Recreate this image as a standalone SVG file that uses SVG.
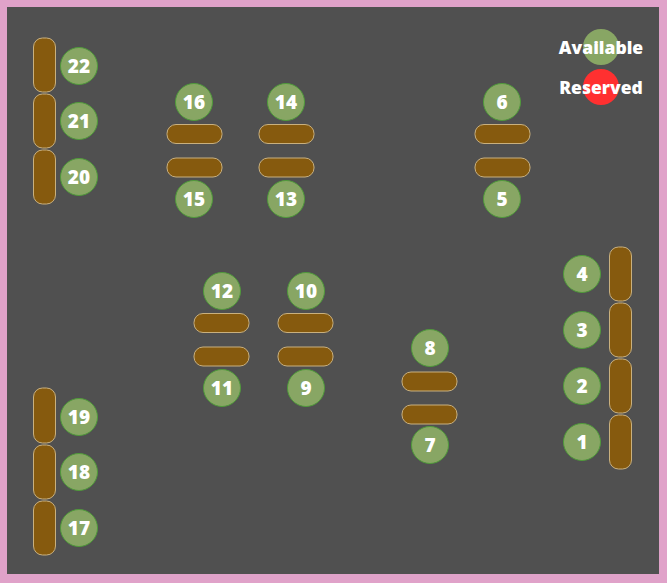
<svg xmlns="http://www.w3.org/2000/svg" width="667" height="583" viewBox="0 0 667 583">
<style>
.spot{fill:#865a0e;stroke:#c9b07e;stroke-width:1}
.av{fill:#88a664;stroke:#4f9a3a;stroke-width:1}
.lbl{font-family:"Open Sans","Liberation Sans",sans-serif;font-weight:800;font-size:19px;fill:#ffffff;text-anchor:middle;dominant-baseline:central}
.leg{font-family:"Open Sans","Liberation Sans",sans-serif;font-weight:800;font-size:17.5px;fill:#ffffff;text-anchor:middle;dominant-baseline:central}
</style>
<rect x="0" y="0" width="667" height="583" fill="#e0a2c9"/>
<rect x="7" y="7" width="652" height="567" fill="#505050"/>
<g id="legend">
<circle cx="601" cy="47" r="18" fill="#88a664"/>
<text class="leg" x="601" y="47">Available</text>
<circle cx="601" cy="87" r="18" fill="#ff3030"/>
<text class="leg" x="601" y="87">Reserved</text>
</g>
<g id="spot-22"><rect class="spot" x="33.5" y="38" width="22" height="54" rx="9"/><circle class="av" cx="79" cy="66" r="18.5"/><text class="lbl" x="79" y="66">22</text></g>
<g id="spot-21"><rect class="spot" x="33.5" y="94" width="22" height="54" rx="9"/><circle class="av" cx="79" cy="121" r="18.5"/><text class="lbl" x="79" y="121">21</text></g>
<g id="spot-20"><rect class="spot" x="33.5" y="150" width="22" height="54" rx="9"/><circle class="av" cx="79" cy="177" r="18.5"/><text class="lbl" x="79" y="177">20</text></g>
<g id="spot-19"><rect class="spot" x="33.5" y="388" width="22" height="55" rx="9"/><circle class="av" cx="79" cy="417" r="18.5"/><text class="lbl" x="79" y="417">19</text></g>
<g id="spot-18"><rect class="spot" x="33.5" y="445" width="22" height="54" rx="9"/><circle class="av" cx="79" cy="472" r="18.5"/><text class="lbl" x="79" y="472">18</text></g>
<g id="spot-17"><rect class="spot" x="33.5" y="501" width="22" height="54" rx="9"/><circle class="av" cx="79" cy="528" r="18.5"/><text class="lbl" x="79" y="528">17</text></g>
<g id="spot-16"><rect class="spot" x="167" y="124.5" width="55" height="19" rx="9"/><circle class="av" cx="194" cy="102" r="18.5"/><text class="lbl" x="194" y="102">16</text></g>
<g id="spot-15"><rect class="spot" x="167" y="158" width="55" height="19" rx="9"/><circle class="av" cx="194" cy="199" r="18.5"/><text class="lbl" x="194" y="199">15</text></g>
<g id="spot-14"><rect class="spot" x="259" y="124.5" width="55" height="19" rx="9"/><circle class="av" cx="286" cy="102" r="18.5"/><text class="lbl" x="286" y="102">14</text></g>
<g id="spot-13"><rect class="spot" x="259" y="158" width="55" height="19" rx="9"/><circle class="av" cx="286" cy="199" r="18.5"/><text class="lbl" x="286" y="199">13</text></g>
<g id="spot-6"><rect class="spot" x="475" y="124.5" width="55" height="19" rx="9"/><circle class="av" cx="502" cy="102" r="18.5"/><text class="lbl" x="502" y="102">6</text></g>
<g id="spot-5"><rect class="spot" x="475" y="158" width="55" height="19" rx="9"/><circle class="av" cx="502" cy="199" r="18.5"/><text class="lbl" x="502" y="199">5</text></g>
<g id="spot-12"><rect class="spot" x="194" y="313.5" width="55" height="19" rx="9"/><circle class="av" cx="222" cy="291" r="18.5"/><text class="lbl" x="222" y="291">12</text></g>
<g id="spot-11"><rect class="spot" x="194" y="347" width="55" height="19" rx="9"/><circle class="av" cx="222" cy="388" r="18.5"/><text class="lbl" x="222" y="388">11</text></g>
<g id="spot-10"><rect class="spot" x="278" y="313.5" width="55" height="19" rx="9"/><circle class="av" cx="306" cy="291" r="18.5"/><text class="lbl" x="306" y="291">10</text></g>
<g id="spot-9"><rect class="spot" x="278" y="347" width="55" height="19" rx="9"/><circle class="av" cx="306" cy="388" r="18.5"/><text class="lbl" x="306" y="388">9</text></g>
<g id="spot-8"><rect class="spot" x="402" y="372" width="55" height="19" rx="9"/><circle class="av" cx="430" cy="348" r="18.5"/><text class="lbl" x="430" y="348">8</text></g>
<g id="spot-7"><rect class="spot" x="402" y="405" width="55" height="19" rx="9"/><circle class="av" cx="430" cy="445" r="18.5"/><text class="lbl" x="430" y="445">7</text></g>
<g id="spot-4"><rect class="spot" x="609.5" y="247" width="22" height="54" rx="9"/><circle class="av" cx="582" cy="274" r="18.5"/><text class="lbl" x="582" y="274">4</text></g>
<g id="spot-3"><rect class="spot" x="609.5" y="303" width="22" height="54" rx="9"/><circle class="av" cx="582" cy="330" r="18.5"/><text class="lbl" x="582" y="330">3</text></g>
<g id="spot-2"><rect class="spot" x="609.5" y="359" width="22" height="54" rx="9"/><circle class="av" cx="582" cy="386" r="18.5"/><text class="lbl" x="582" y="386">2</text></g>
<g id="spot-1"><rect class="spot" x="609.5" y="415" width="22" height="54" rx="9"/><circle class="av" cx="582" cy="442" r="18.5"/><text class="lbl" x="582" y="442">1</text></g>
<g id="connectors"></g>
</svg>
